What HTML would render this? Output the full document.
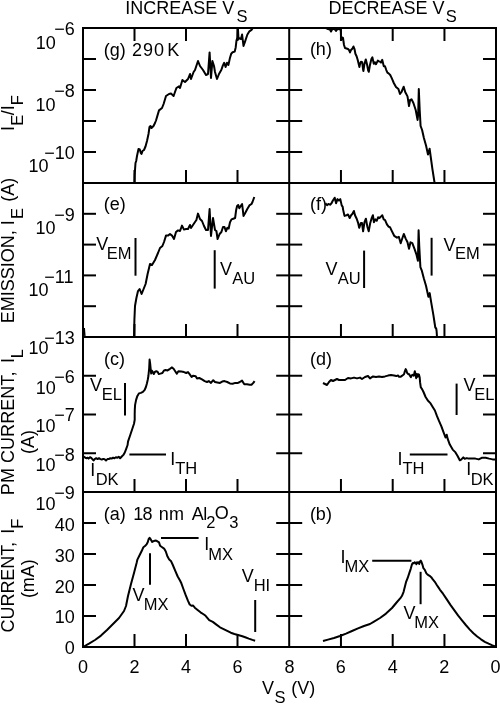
<!DOCTYPE html>
<html><head><meta charset="utf-8"><style>
html,body{margin:0;padding:0;background:#fff;}
svg{display:block;filter:grayscale(1);}
text{font-family:"Liberation Sans",sans-serif;fill:#000;stroke:none;}
</style></head><body>
<svg width="500" height="704" viewBox="0 0 500 704" stroke="#000" fill="#000">
<g stroke="none">
</g>
<line x1="82" y1="28" x2="497" y2="28" stroke-width="2"/>
<line x1="82" y1="183" x2="497" y2="183" stroke-width="2"/>
<line x1="82" y1="337" x2="497" y2="337" stroke-width="2"/>
<line x1="82" y1="492" x2="497" y2="492" stroke-width="2"/>
<line x1="82" y1="647" x2="497" y2="647" stroke-width="2"/>
<line x1="83" y1="27" x2="83" y2="648" stroke-width="2"/>
<line x1="289.2" y1="27" x2="289.2" y2="648" stroke-width="2"/>
<line x1="496" y1="27" x2="496" y2="648" stroke-width="2"/>
<line x1="134.5" y1="28" x2="134.5" y2="41" stroke-width="2"/>
<line x1="186.0" y1="28" x2="186.0" y2="41" stroke-width="2"/>
<line x1="237.5" y1="28" x2="237.5" y2="41" stroke-width="2"/>
<line x1="340.95" y1="28" x2="340.95" y2="41" stroke-width="2"/>
<line x1="392.7" y1="28" x2="392.7" y2="41" stroke-width="2"/>
<line x1="444.45" y1="28" x2="444.45" y2="41" stroke-width="2"/>
<line x1="134.5" y1="183" x2="134.5" y2="170" stroke-width="2"/>
<line x1="186.0" y1="183" x2="186.0" y2="170" stroke-width="2"/>
<line x1="237.5" y1="183" x2="237.5" y2="170" stroke-width="2"/>
<line x1="340.95" y1="183" x2="340.95" y2="170" stroke-width="2"/>
<line x1="392.7" y1="183" x2="392.7" y2="170" stroke-width="2"/>
<line x1="444.45" y1="183" x2="444.45" y2="170" stroke-width="2"/>
<line x1="134.5" y1="337" x2="134.5" y2="324" stroke-width="2"/>
<line x1="186.0" y1="337" x2="186.0" y2="324" stroke-width="2"/>
<line x1="237.5" y1="337" x2="237.5" y2="324" stroke-width="2"/>
<line x1="340.95" y1="337" x2="340.95" y2="324" stroke-width="2"/>
<line x1="392.7" y1="337" x2="392.7" y2="324" stroke-width="2"/>
<line x1="444.45" y1="337" x2="444.45" y2="324" stroke-width="2"/>
<line x1="134.5" y1="492" x2="134.5" y2="479" stroke-width="2"/>
<line x1="186.0" y1="492" x2="186.0" y2="479" stroke-width="2"/>
<line x1="237.5" y1="492" x2="237.5" y2="479" stroke-width="2"/>
<line x1="340.95" y1="492" x2="340.95" y2="479" stroke-width="2"/>
<line x1="392.7" y1="492" x2="392.7" y2="479" stroke-width="2"/>
<line x1="444.45" y1="492" x2="444.45" y2="479" stroke-width="2"/>
<line x1="134.5" y1="647" x2="134.5" y2="634" stroke-width="2"/>
<line x1="186.0" y1="647" x2="186.0" y2="634" stroke-width="2"/>
<line x1="237.5" y1="647" x2="237.5" y2="634" stroke-width="2"/>
<line x1="340.95" y1="647" x2="340.95" y2="634" stroke-width="2"/>
<line x1="392.7" y1="647" x2="392.7" y2="634" stroke-width="2"/>
<line x1="444.45" y1="647" x2="444.45" y2="634" stroke-width="2"/>
<line x1="83" y1="59" x2="96" y2="59" stroke-width="2"/>
<line x1="276.2" y1="59" x2="302.2" y2="59" stroke-width="2"/>
<line x1="483" y1="59" x2="496" y2="59" stroke-width="2"/>
<line x1="83" y1="90" x2="96" y2="90" stroke-width="2"/>
<line x1="276.2" y1="90" x2="302.2" y2="90" stroke-width="2"/>
<line x1="483" y1="90" x2="496" y2="90" stroke-width="2"/>
<line x1="83" y1="121" x2="96" y2="121" stroke-width="2"/>
<line x1="276.2" y1="121" x2="302.2" y2="121" stroke-width="2"/>
<line x1="483" y1="121" x2="496" y2="121" stroke-width="2"/>
<line x1="83" y1="152" x2="96" y2="152" stroke-width="2"/>
<line x1="276.2" y1="152" x2="302.2" y2="152" stroke-width="2"/>
<line x1="483" y1="152" x2="496" y2="152" stroke-width="2"/>
<line x1="83" y1="213.8" x2="96" y2="213.8" stroke-width="2"/>
<line x1="276.2" y1="213.8" x2="302.2" y2="213.8" stroke-width="2"/>
<line x1="483" y1="213.8" x2="496" y2="213.8" stroke-width="2"/>
<line x1="83" y1="244.6" x2="96" y2="244.6" stroke-width="2"/>
<line x1="276.2" y1="244.6" x2="302.2" y2="244.6" stroke-width="2"/>
<line x1="483" y1="244.6" x2="496" y2="244.6" stroke-width="2"/>
<line x1="83" y1="275.4" x2="96" y2="275.4" stroke-width="2"/>
<line x1="276.2" y1="275.4" x2="302.2" y2="275.4" stroke-width="2"/>
<line x1="483" y1="275.4" x2="496" y2="275.4" stroke-width="2"/>
<line x1="83" y1="306.2" x2="96" y2="306.2" stroke-width="2"/>
<line x1="276.2" y1="306.2" x2="302.2" y2="306.2" stroke-width="2"/>
<line x1="483" y1="306.2" x2="496" y2="306.2" stroke-width="2"/>
<line x1="83" y1="375.75" x2="96" y2="375.75" stroke-width="2"/>
<line x1="276.2" y1="375.75" x2="302.2" y2="375.75" stroke-width="2"/>
<line x1="483" y1="375.75" x2="496" y2="375.75" stroke-width="2"/>
<line x1="83" y1="414.5" x2="96" y2="414.5" stroke-width="2"/>
<line x1="276.2" y1="414.5" x2="302.2" y2="414.5" stroke-width="2"/>
<line x1="483" y1="414.5" x2="496" y2="414.5" stroke-width="2"/>
<line x1="83" y1="453.25" x2="96" y2="453.25" stroke-width="2"/>
<line x1="276.2" y1="453.25" x2="302.2" y2="453.25" stroke-width="2"/>
<line x1="483" y1="453.25" x2="496" y2="453.25" stroke-width="2"/>
<line x1="83" y1="523" x2="96" y2="523" stroke-width="2"/>
<line x1="276.2" y1="523" x2="302.2" y2="523" stroke-width="2"/>
<line x1="483" y1="523" x2="496" y2="523" stroke-width="2"/>
<line x1="83" y1="554" x2="96" y2="554" stroke-width="2"/>
<line x1="276.2" y1="554" x2="302.2" y2="554" stroke-width="2"/>
<line x1="483" y1="554" x2="496" y2="554" stroke-width="2"/>
<line x1="83" y1="585" x2="96" y2="585" stroke-width="2"/>
<line x1="276.2" y1="585" x2="302.2" y2="585" stroke-width="2"/>
<line x1="483" y1="585" x2="496" y2="585" stroke-width="2"/>
<line x1="83" y1="616" x2="96" y2="616" stroke-width="2"/>
<line x1="276.2" y1="616" x2="302.2" y2="616" stroke-width="2"/>
<line x1="483" y1="616" x2="496" y2="616" stroke-width="2"/>
<text x="35.63" y="48.50" font-size="18.0">10</text>
<text x="54.28" y="34.50" font-size="18.0">−6</text>
<text x="35.53" y="110.50" font-size="18.0">10</text>
<text x="54.28" y="97.00" font-size="18.0">−8</text>
<text x="28.53" y="172.40" font-size="18.0">10</text>
<text x="44.27" y="158.50" font-size="18.0">−10</text>
<text x="35.43" y="233.70" font-size="18.0">10</text>
<text x="54.28" y="221.00" font-size="18.0">−9</text>
<text x="28.53" y="296.10" font-size="18.0">10</text>
<text x="44.27" y="282.70" font-size="18.0">−11</text>
<text x="28.53" y="354.20" font-size="18.0">10</text>
<text x="44.27" y="343.70" font-size="18.0">−13</text>
<text x="35.63" y="393.50" font-size="18.0">10</text>
<text x="54.28" y="382.50" font-size="18.0">−6</text>
<text x="35.43" y="431.60" font-size="18.0">10</text>
<text x="54.28" y="421.00" font-size="18.0">−7</text>
<text x="35.43" y="470.50" font-size="18.0">10</text>
<text x="54.28" y="460.50" font-size="18.0">−8</text>
<text x="35.43" y="509.50" font-size="18.0">10</text>
<text x="54.28" y="499.30" font-size="18.0">−9</text>
<text x="54.78" y="530.5" font-size="18.0">40</text>
<text x="54.78" y="561.8" font-size="18.0">30</text>
<text x="54.78" y="592.5" font-size="18.0">20</text>
<text x="54.78" y="623.2" font-size="18.0">10</text>
<text x="64.79" y="653.9" font-size="18.0">0</text>
<text x="77.99" y="673.00" font-size="18.0">0</text>
<text x="129.49" y="673.00" font-size="18.0">2</text>
<text x="181.05" y="673.00" font-size="18.0">4</text>
<text x="232.43" y="673.00" font-size="18.0">6</text>
<text x="284.49" y="673.00" font-size="18.0">8</text>
<text x="335.63" y="673.00" font-size="18.0">6</text>
<text x="387.85" y="673.00" font-size="18.0">4</text>
<text x="439.19" y="673.00" font-size="18.0">2</text>
<text x="490.39" y="673.00" font-size="18.0">0</text>
<text x="262.12" y="694.00" font-size="18.0">V</text>
<text x="274.45" y="702.50" font-size="16.5">S</text>
<text x="291.18" y="694.00" font-size="18.0">(V)</text>
<text x="125.34" y="14.00" font-size="18.0">INCREASE V</text>
<text x="236.45" y="22.00" font-size="16.5">S</text>
<text x="328.52" y="14.00" font-size="18.0">DECREASE V</text>
<text x="445.85" y="22.00" font-size="16.5">S</text>
<text transform="translate(14.10,130.96) rotate(-90)" x="0" y="0" font-size="18.0">I</text>
<text transform="translate(22.70,125.85) rotate(-90)" x="0" y="0" font-size="16.5">E</text>
<text transform="translate(14.10,115.30) rotate(-90)" x="0" y="0" font-size="18.0">/I</text>
<text transform="translate(22.70,105.15) rotate(-90)" x="0" y="0" font-size="16.5">F</text>
<text transform="translate(14.40,323.28) rotate(-90)" x="0" y="0" font-size="18.0">EMISSION, I</text>
<text transform="translate(22.70,219.05) rotate(-90)" x="0" y="0" font-size="16.5">E</text>
<text transform="translate(14.40,201.82) rotate(-90)" x="0" y="0" font-size="18.0">(A)</text>
<text transform="translate(14.20,495.18) rotate(-90)" x="0" y="0" font-size="18.0" letter-spacing="0.06">PM CURRENT,</text>
<text transform="translate(14.20,362.96) rotate(-90)" x="0" y="0" font-size="18.0">I</text>
<text transform="translate(23.00,358.15) rotate(-90)" x="0" y="0" font-size="16.5">L</text>
<text transform="translate(34.30,453.92) rotate(-90)" x="0" y="0" font-size="18.0">(A)</text>
<text transform="translate(14.40,632.41) rotate(-90)" x="0" y="0" font-size="18.0" letter-spacing="-0.07">CURRENT,</text>
<text transform="translate(14.40,533.66) rotate(-90)" x="0" y="0" font-size="18.0">I</text>
<text transform="translate(22.80,528.65) rotate(-90)" x="0" y="0" font-size="16.5">F</text>
<text transform="translate(34.30,598.12) rotate(-90)" x="0" y="0" font-size="18.0">(mA)</text>
<text x="103.68" y="55.50" font-size="18.0">(g)</text>
<text x="132.09" y="55.50" font-size="18.0" letter-spacing="0.99">290</text>
<text x="167.32" y="55.50" font-size="18.0">K</text>
<text x="309.88" y="55.40" font-size="18.0">(h)</text>
<text x="103.68" y="209.60" font-size="18.0">(e)</text>
<text x="309.98" y="210.00" font-size="18.0">(f)</text>
<text x="104.08" y="365.00" font-size="18.0">(c)</text>
<text x="310.08" y="365.00" font-size="18.0">(d)</text>
<text x="103.68" y="519.50" font-size="18.0">(a)</text>
<text x="133.13" y="519.50" font-size="18.0" letter-spacing="-0.67">18</text>
<text x="158.80" y="519.50" font-size="18.0" letter-spacing="0.08">nm</text>
<text x="191.66" y="519.50" font-size="18.0" letter-spacing="-0.47">Al</text>
<text x="206.37" y="527.70" font-size="16.5">2</text>
<text x="214.85" y="519.30" font-size="18.0">O</text>
<text x="229.37" y="527.70" font-size="16.5">3</text>
<text x="309.88" y="519.50" font-size="18.0">(b)</text>
<text x="96.22" y="250.00" font-size="18.0">V</text>
<text x="106.65" y="259.00" font-size="16.5">EM</text>
<line x1="135.5" y1="238" x2="135.5" y2="275.7" stroke-width="2"/>
<text x="219.92" y="275.00" font-size="18.0">V</text>
<text x="232.37" y="283.50" font-size="16.5">AU</text>
<line x1="214.7" y1="250.2" x2="214.7" y2="288.6" stroke-width="2"/>
<text x="325.52" y="275.00" font-size="18.0">V</text>
<text x="337.67" y="283.80" font-size="16.5">AU</text>
<line x1="364.1" y1="250.6" x2="364.1" y2="288" stroke-width="2"/>
<text x="443.52" y="250.50" font-size="18.0">V</text>
<text x="455.05" y="259.00" font-size="16.5">EM</text>
<line x1="431.6" y1="237.8" x2="431.6" y2="275.6" stroke-width="2"/>
<text x="90.02" y="391.00" font-size="18.0">V</text>
<text x="101.65" y="399.70" font-size="16.5">EL</text>
<line x1="125.0" y1="383" x2="125.0" y2="415.6" stroke-width="2"/>
<text x="90.34" y="475.60" font-size="18.0">I</text>
<text x="95.65" y="485.00" font-size="16.5">DK</text>
<text x="170.34" y="464.50" font-size="18.0">I</text>
<text x="175.23" y="473.50" font-size="16.5">TH</text>
<line x1="129.4" y1="454.5" x2="166" y2="454.5" stroke-width="2"/>
<text x="463.52" y="391.00" font-size="18.0">V</text>
<text x="474.25" y="400.00" font-size="16.5">EL</text>
<line x1="456.6" y1="383.6" x2="456.6" y2="415" stroke-width="2"/>
<text x="397.54" y="464.50" font-size="18.0">I</text>
<text x="402.43" y="473.50" font-size="16.5">TH</text>
<line x1="409.8" y1="454.5" x2="447.5" y2="454.5" stroke-width="2"/>
<text x="466.34" y="475.00" font-size="18.0">I</text>
<text x="470.65" y="485.00" font-size="16.5">DK</text>
<text x="204.24" y="550.30" font-size="18.0">I</text>
<text x="208.25" y="560.00" font-size="16.5">MX</text>
<line x1="161" y1="537.9" x2="198.6" y2="537.9" stroke-width="2"/>
<text x="132.52" y="601.00" font-size="18.0">V</text>
<text x="143.65" y="610.00" font-size="16.5">MX</text>
<line x1="150.0" y1="553.2" x2="150.0" y2="584.8" stroke-width="2"/>
<text x="241.72" y="582.20" font-size="18.0">V</text>
<text x="253.65" y="590.50" font-size="16.5">HI</text>
<line x1="255.2" y1="600" x2="255.2" y2="632" stroke-width="2"/>
<text x="340.44" y="563.00" font-size="18.0">I</text>
<text x="344.45" y="572.00" font-size="16.5">MX</text>
<line x1="372.2" y1="560.8" x2="411.4" y2="560.8" stroke-width="2"/>
<text x="403.42" y="619.00" font-size="18.0">V</text>
<text x="414.15" y="628.00" font-size="16.5">MX</text>
<line x1="420.6" y1="571.8" x2="420.6" y2="604.2" stroke-width="2"/>
<line x1="84.3" y1="328" x2="84.9" y2="336.5" stroke-width="1.4"/>
<path d="M134.5,183.0 L134.7,175.0 L135.0,170.0 L135.5,163.0 L136.2,161.0 L137.0,156.0 L138.5,149.0 L139.8,149.5 L140.8,153.0 L141.5,154.0 L142.5,151.0 L144.0,150.0 L145.5,146.5 L147.0,141.0 L148.5,134.0 L149.5,127.0 L150.5,126.0 L151.5,128.0 L153.5,126.0 L155.0,123.0 L156.0,120.5 L159.0,110.4 L162.0,108.0 L163.6,104.0 L166.0,96.0 L169.0,94.0 L171.0,93.6 L173.6,96.0 L176.4,88.0 L179.0,86.4 L180.0,88.0 L182.4,80.0 L185.0,82.0 L188.0,79.0 L190.0,74.0 L191.0,79.0 L193.6,72.0 L195.0,70.0 L196.0,67.0 L198.0,61.0 L200.0,66.0 L203.0,70.0 L206.0,75.0 L208.0,74.0 L209.6,52.4 L211.0,78.0 L212.4,61.0 L214.0,66.0 L215.0,72.0 L217.0,79.0 L219.0,74.0 L221.4,69.8 L222.8,65.6 L224.2,62.8 L225.6,67.0 L227.0,62.8 L228.4,65.0 L229.8,58.6 L231.2,53.7 L232.6,52.3 L234.7,51.6 L235.7,47.4 L236.5,40.4 L237.5,37.6 L237.9,28.0 L238.5,39.0 L239.6,38.3 L241.0,39.0 L242.1,34.5 L243.5,46.0 L245.2,41.1 L247.3,34.8 L249.4,31.3 L251.5,29.9 L252.9,28.0" fill="none" stroke-width="2" stroke-linejoin="round" stroke-linecap="butt"/>
<path d="M326.0,28.0 L328.0,29.0 L330.0,29.5 L331.0,31.5 L332.0,29.5 L333.0,29.0 L334.5,29.0 L336.0,31.0 L337.0,29.5 L338.5,29.0 L340.0,29.0 L340.8,31.0 L341.2,40.0 L342.0,37.5 L343.0,38.0 L344.0,45.0 L345.0,48.0 L346.5,48.5 L348.0,49.0 L349.0,50.0 L350.0,52.5 L351.0,50.0 L352.5,48.5 L353.5,46.5 L354.5,49.0 L355.4,53.8 L356.6,56.2 L357.8,60.2 L359.0,65.4 L359.4,67.0 L360.2,63.4 L361.0,61.8 L362.2,62.2 L363.0,69.0 L363.4,71.0 L364.4,64.2 L365.8,59.4 L367.0,64.2 L368.2,70.6 L368.8,71.8 L369.8,65.8 L371.4,59.0 L372.4,57.4 L373.8,63.8 L375.0,62.2 L376.0,64.2 L376.8,62.6 L377.8,60.6 L379.0,61.4 L380.2,61.8 L381.0,62.6 L382.2,59.8 L383.0,63.0 L383.8,66.2 L385.0,66.2 L386.2,69.8 L387.4,72.6 L388.6,73.4 L390.2,75.0 L391.4,77.4 L392.6,80.2 L393.8,83.0 L396.0,87.0 L398.4,89.0 L400.0,94.0 L401.5,92.0 L403.7,86.7 L405.2,92.0 L407.5,96.4 L409.0,106.0 L410.1,100.0 L411.6,99.4 L413.4,103.0 L415.7,110.0 L417.6,120.0 L418.2,114.0 L418.8,89.0 L419.7,110.0 L420.6,126.0 L422.1,130.0 L423.9,138.0 L426.1,145.7 L428.0,154.6 L429.6,148.7 L430.6,156.0 L432.5,169.6 L434.6,183.0" fill="none" stroke-width="2" stroke-linejoin="round" stroke-linecap="butt"/>
<path d="M134.0,337.0 L134.4,320.0 L135.0,306.0 L136.4,298.0 L138.0,291.0 L139.6,289.0 L141.6,294.0 L143.6,289.0 L145.6,284.0 L147.6,274.0 L150.0,264.0 L152.0,265.0 L155.0,260.0 L158.0,253.0 L160.0,248.0 L162.4,246.0 L164.0,242.0 L166.0,235.6 L168.0,235.6 L170.0,234.0 L172.0,235.6 L174.0,239.0 L176.0,232.0 L178.0,230.4 L180.0,231.0 L182.0,225.6 L184.0,229.6 L186.0,229.0 L188.0,229.0 L190.0,225.0 L191.0,228.0 L193.0,225.0 L195.0,222.0 L196.4,220.0 L198.0,213.6 L200.0,219.0 L202.0,221.0 L204.0,226.0 L206.0,230.0 L208.0,230.0 L209.6,209.0 L211.0,236.0 L213.0,218.0 L214.0,224.0 L215.0,230.0 L216.4,231.0 L217.6,239.0 L219.6,234.0 L221.4,232.0 L223.0,227.0 L224.5,227.0 L225.9,231.3 L227.3,227.8 L228.7,228.5 L230.0,222.2 L231.5,219.4 L233.3,218.7 L235.1,218.0 L236.1,210.3 L237.1,206.0 L238.2,205.0 L239.3,208.2 L240.7,206.0 L242.1,204.0 L242.8,209.6 L243.5,216.0 L245.2,213.0 L247.3,209.0 L249.4,205.4 L251.5,204.0 L252.5,202.0 L254.3,197.0" fill="none" stroke-width="2" stroke-linejoin="round" stroke-linecap="butt"/>
<path d="M325.3,203.3 L327.0,205.1 L328.4,204.0 L330.1,204.7 L331.5,203.3 L332.9,200.5 L334.7,197.7 L336.1,203.3 L337.5,199.1 L338.9,200.5 L340.3,199.1 L341.7,205.4 L342.7,206.8 L343.1,209.6 L344.5,215.9 L346.6,215.2 L348.0,214.5 L349.7,218.0 L351.1,215.2 L352.5,213.8 L353.9,211.0 L355.0,215.2 L356.7,218.7 L358.1,222.9 L359.2,227.8 L360.9,222.9 L362.0,222.9 L363.1,231.3 L364.5,222.2 L365.9,218.7 L367.3,226.4 L368.7,231.3 L370.1,223.6 L371.5,218.7 L372.9,215.2 L373.9,222.2 L375.3,219.4 L376.7,220.8 L378.1,217.3 L379.5,218.0 L380.9,216.6 L382.3,215.2 L383.7,219.4 L385.1,220.1 L386.9,224.3 L388.6,226.7 L390.0,227.1 L391.5,230.3 L394.2,235.8 L397.0,237.7 L398.8,236.8 L400.7,243.2 L402.5,237.7 L403.8,234.0 L405.7,238.6 L407.5,242.3 L409.0,248.8 L410.5,242.3 L412.3,243.2 L414.5,248.8 L416.4,254.3 L417.9,260.8 L418.6,230.3 L419.3,247.0 L420.4,267.2 L421.9,270.9 L423.8,278.3 L426.0,285.7 L428.4,296.8 L429.7,293.1 L431.2,302.3 L433.4,315.2 L434.6,323.0 L435.3,327.5 L436.2,328.5 L436.6,331.0 L437.0,337.0" fill="none" stroke-width="2" stroke-linejoin="round" stroke-linecap="butt"/>
<path d="M83.0,456.5 L84.0,456.7 L85.3,457.7 L86.8,458.2 L87.7,457.7 L88.6,458.6 L90.0,457.2 L91.5,458.2 L92.4,459.1 L93.5,460.5 L94.7,459.1 L96.2,458.2 L97.6,459.1 L99.0,458.2 L100.4,459.1 L101.8,459.6 L103.2,458.9 L104.6,459.3 L106.0,460.5 L107.4,459.1 L108.8,459.1 L110.3,458.2 L111.7,458.6 L113.1,457.7 L114.5,458.2 L115.9,457.2 L117.3,457.7 L118.7,456.7 L120.1,458.2 L121.1,457.2 L122.0,456.3 L123.4,454.9 L124.8,452.5 L126.2,448.8 L127.6,445.0 L128.0,441.6 L130.0,435.7 L132.0,429.7 L134.0,423.7 L134.7,419.8 L134.7,414.8 L134.8,409.8 L135.1,404.9 L136.1,399.9 L137.4,395.9 L138.9,393.4 L140.9,392.9 L142.9,391.9 L144.7,389.9 L145.9,387.0 L146.9,383.5 L147.7,380.0 L148.4,376.0 L149.2,368.0 L149.6,359.6 L150.2,364.0 L150.8,370.4 L151.2,373.6 L152.0,370.8 L152.8,372.0 L153.8,374.0 L154.8,372.0 L156.4,371.2 L157.4,371.6 L158.8,374.0 L160.4,373.6 L162.4,373.0 L164.0,370.4 L165.6,370.0 L167.6,370.4 L170.0,368.8 L172.0,367.4 L173.6,368.8 L175.2,371.2 L176.8,373.6 L178.4,371.2 L181.3,371.6 L184.0,372.1 L186.2,373.0 L188.0,372.1 L189.4,373.9 L191.6,377.0 L193.0,375.7 L195.7,376.2 L197.0,378.4 L199.3,378.0 L202.0,379.3 L204.7,381.1 L207.0,382.0 L208.8,381.1 L211.0,382.9 L213.2,380.2 L215.0,382.0 L217.3,382.4 L220.0,382.9 L222.2,381.6 L224.5,381.1 L227.2,382.0 L229.9,383.4 L232.6,383.8 L235.3,382.9 L238.0,382.9 L239.8,382.0 L242.0,380.6 L244.3,384.2 L247.0,384.2 L249.7,384.7 L251.5,384.7 L253.3,382.9 L254.6,381.1" fill="none" stroke-width="2" stroke-linejoin="round" stroke-linecap="butt"/>
<path d="M323.0,383.0 L325.0,384.0 L327.0,385.0 L329.0,382.0 L331.0,380.0 L333.0,381.0 L335.0,380.0 L337.0,379.0 L339.0,380.0 L342.0,380.0 L345.0,380.0 L348.0,378.0 L351.0,378.4 L354.0,377.6 L357.0,378.4 L360.0,377.6 L362.0,379.0 L365.0,377.0 L368.0,376.0 L370.0,378.4 L373.0,376.4 L376.0,377.0 L379.0,376.4 L382.0,377.0 L385.0,376.4 L388.0,375.6 L391.0,375.0 L394.0,375.6 L396.3,376.1 L398.0,375.4 L399.1,376.8 L400.5,376.8 L402.2,375.7 L404.0,374.3 L405.0,370.8 L405.7,369.1 L406.4,370.5 L407.1,372.9 L408.2,374.0 L409.2,374.3 L409.9,375.7 L410.9,377.1 L411.7,375.4 L412.7,374.7 L413.8,375.7 L414.8,371.2 L415.5,374.0 L416.2,378.2 L416.9,374.0 L417.6,376.8 L418.3,374.3 L419.0,374.7 L419.7,377.5 L420.1,382.4 L420.8,387.3 L422.2,389.4 L423.5,392.0 L425.6,397.0 L427.8,400.5 L430.6,403.4 L432.7,406.9 L434.9,410.5 L437.0,416.2 L439.1,421.2 L441.3,426.1 L443.4,431.8 L445.5,437.5 L446.7,434.7 L447.7,438.9 L449.8,444.6 L452.7,449.6 L455.5,452.4 L457.6,456.0 L459.8,460.3 L461.2,459.6 L463.3,457.4 L464.7,458.8 L466.9,458.1 L468.5,458.6 L471.9,458.6 L475.4,458.6 L478.8,459.4 L482.2,457.7 L485.7,457.7 L489.1,458.6 L492.6,459.4 L496.0,459.4" fill="none" stroke-width="2" stroke-linejoin="round" stroke-linecap="butt"/>
<path d="M83.0,647.0 L89.0,643.6 L95.0,640.0 L101.0,635.6 L107.0,630.0 L113.0,624.0 L119.0,618.0 L124.0,611.0 L126.0,606.0 L128.0,596.0 L131.0,584.0 L134.0,573.0 L136.6,563.0 L137.4,559.6 L139.8,554.8 L141.8,550.8 L143.4,547.2 L145.0,546.0 L146.6,544.4 L147.8,542.0 L148.6,539.2 L149.6,537.8 L150.6,539.2 L152.2,542.0 L153.4,541.2 L155.0,540.6 L156.6,540.8 L158.2,541.8 L159.0,542.4 L160.1,545.8 L161.8,547.0 L164.1,548.6 L165.8,551.5 L167.5,556.6 L169.2,559.4 L170.9,560.9 L172.6,564.5 L175.5,571.4 L177.7,576.5 L180.0,580.5 L181.1,582.7 L183.4,589.0 L185.7,595.2 L188.0,600.9 L189.7,604.5 L191.4,605.7 L193.1,605.5 L194.8,607.7 L197.6,610.0 L200.5,612.3 L203.9,614.5 L205.6,615.8 L209.2,620.1 L212.8,621.9 L216.4,624.6 L220.0,627.3 L223.6,629.1 L227.2,630.9 L230.8,632.7 L234.4,634.0 L238.0,635.0 L241.6,636.0 L245.2,637.2 L248.8,638.6 L252.4,639.9 L255.1,640.8" fill="none" stroke-width="2" stroke-linejoin="round" stroke-linecap="butt"/>
<path d="M323.0,641.0 L328.0,639.6 L334.0,638.0 L340.0,636.0 L346.0,633.6 L352.0,631.0 L358.0,628.4 L364.0,626.0 L370.0,624.0 L374.0,621.6 L380.0,618.0 L386.0,613.6 L392.0,608.0 L397.0,602.0 L400.4,598.2 L402.0,595.8 L403.6,591.8 L404.8,587.0 L406.0,582.2 L407.6,578.2 L409.2,573.4 L410.8,568.6 L412.0,564.2 L412.8,563.0 L413.8,563.4 L414.6,562.2 L415.6,563.0 L416.4,564.2 L417.0,562.2 L417.8,563.0 L418.6,562.2 L419.2,564.0 L420.0,561.4 L420.8,560.6 L421.6,562.2 L422.4,564.6 L423.4,568.2 L424.8,569.8 L426.4,573.4 L427.6,574.6 L429.6,575.8 L431.2,577.2 L432.8,579.4 L434.8,581.8 L436.8,585.0 L438.4,587.4 L440.0,589.8 L443.0,593.7 L446.8,599.4 L450.6,605.1 L454.4,610.4 L458.2,615.6 L462.0,620.3 L465.8,625.0 L469.6,629.4 L473.4,633.2 L477.2,636.5 L481.0,639.3 L484.8,641.8 L488.6,643.7 L492.4,645.4 L495.3,646.5" fill="none" stroke-width="2" stroke-linejoin="round" stroke-linecap="butt"/>
</svg>
</body></html>
